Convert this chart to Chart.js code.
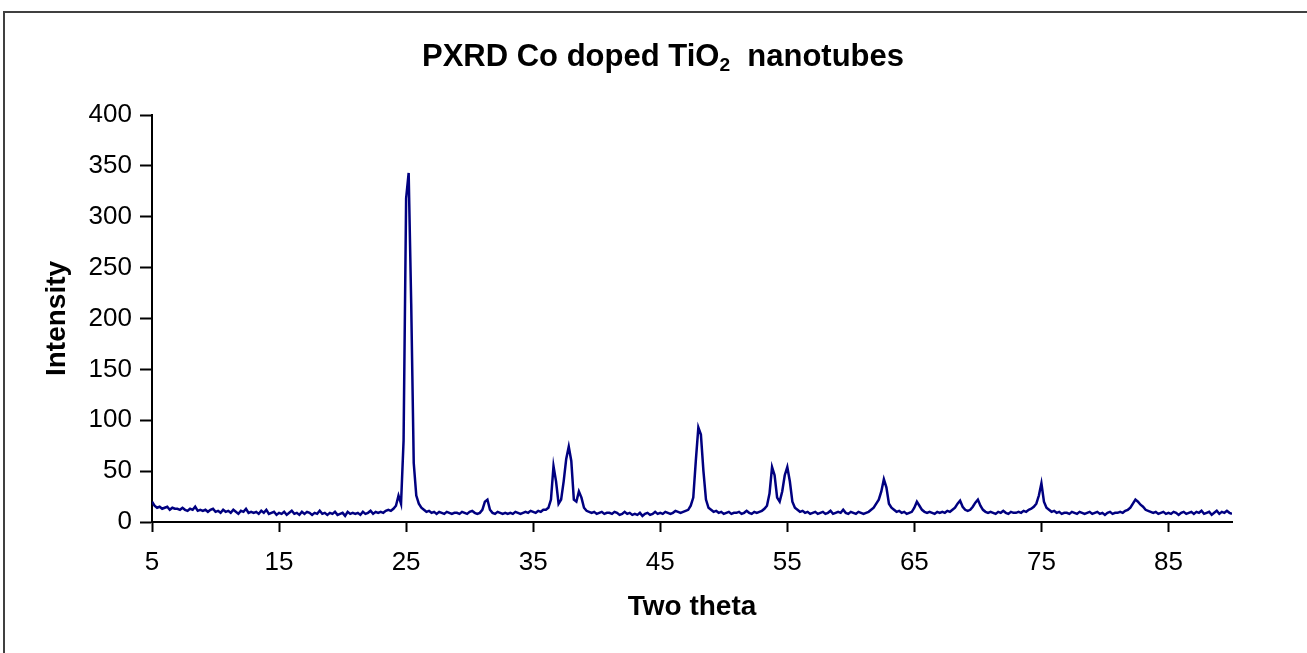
<!DOCTYPE html>
<html lang="en">
<head>
    <meta charset="UTF-8">
    <title>PXRD Co doped TiO2 nanotubes</title>
    <style>
        html, body { margin: 0; padding: 0; background: #fff; overflow: hidden; }
        #frame { position: absolute; left: 3px; top: 11px; width: 1320px; height: 660px; border: 2px solid #404040; box-sizing: border-box; }
        #title { position: absolute; left: 663px; top: 38px; transform: translateX(-50%); white-space: nowrap;
                 font-family: "Liberation Sans", Arial, sans-serif; font-weight: bold; font-size: 31px; color: #000; }
        #title sub { font-size: 0.62em; vertical-align: -0.25em; }
        #wrap { position: absolute; left: 0; top: 0; width: 1307px; height: 653px; }
    </style>
</head>
<body>
    <div id="frame"></div>
    <div id="wrap"><canvas id="xrd" width="1307" height="653"></canvas></div>
    <div id="title">PXRD Co doped TiO<sub>2</sub>&nbsp; nanotubes</div>

    <script src="https://cdn.jsdelivr.net/npm/chart.js"></script>
    <script>
        // measured on a 0.2 degree grid, 5 .. 90
        const twoThetaStart = 5;
        const twoThetaStep = 0.2;
        const xTicks = [5, 15, 25, 35, 45, 55, 65, 75, 85];
        const yTicks = [0, 50, 100, 150, 200, 250, 300, 350, 400];

        // one row = 2 degrees (10 readings)
        const intensity = [
            20, 16, 14, 15, 13, 14, 15, 12, 14, 13,   // 5
            13, 12, 14, 12, 11, 13, 12, 15, 11, 12,   // 7
            11, 12, 10, 12, 13, 10, 11, 9, 12, 10,    // 9
            11, 9, 12, 10, 8, 11, 10, 13, 9, 10,      // 11
            9, 10, 8, 11, 9, 12, 8, 9, 10, 7,         // 13
            9, 8, 10, 7, 9, 11, 8, 9, 7, 10,          // 15
            8, 10, 9, 7, 9, 8, 11, 8, 9, 7,           // 17
            9, 8, 10, 7, 8, 9, 6, 10, 8, 9,           // 19
            8, 9, 7, 10, 8, 9, 11, 8, 10, 9,          // 21
            10, 9, 11, 12, 11, 13, 16, 26, 18, 80,    // 23
            318, 343, 215, 58, 26, 18, 14, 12, 10, 11, // 25
            9, 10, 8, 10, 9, 8, 10, 9, 8, 9,          // 27
            9, 8, 10, 9, 8, 10, 11, 9, 8, 9,          // 29
            12, 20, 22, 12, 9, 8, 10, 9, 8, 9,        // 31
            8, 9, 8, 10, 9, 8, 9, 10, 9, 11,          // 33
            10, 9, 11, 10, 12, 12, 14, 22, 55, 40,    // 35
            18, 22, 40, 62, 74, 60, 22, 20, 30, 24,   // 37
            14, 11, 10, 9, 10, 8, 9, 10, 8, 9,        // 39
            9, 8, 10, 9, 7, 8, 10, 8, 9, 7,           // 41
            8, 7, 9, 6, 8, 9, 7, 8, 10, 8,            // 43
            9, 8, 10, 9, 8, 9, 11, 10, 9, 10,         // 45
            11, 12, 16, 24, 60, 93, 86, 50, 22, 14,   // 47
            12, 10, 11, 9, 10, 8, 9, 10, 8, 9,        // 49
            9, 10, 8, 9, 11, 9, 8, 10, 9, 10,         // 51
            11, 13, 16, 28, 54, 46, 24, 20, 30, 46,   // 53
            54, 40, 20, 14, 12, 10, 11, 9, 10, 8,     // 55
            9, 10, 8, 9, 10, 8, 9, 11, 8, 9,          // 57
            10, 9, 12, 9, 8, 10, 9, 8, 10, 9,         // 59
            8, 9, 10, 12, 14, 18, 22, 30, 42, 34,     // 61
            18, 14, 12, 10, 11, 9, 10, 8, 9, 10,      // 63
            14, 20, 16, 12, 10, 9, 10, 9, 8, 10,      // 65
            9, 10, 9, 11, 10, 12, 14, 18, 21, 15,     // 67
            12, 11, 12, 15, 19, 22, 16, 12, 10, 9,    // 69
            10, 9, 8, 10, 9, 11, 9, 8, 10, 9,         // 71
            9, 10, 9, 11, 10, 12, 13, 15, 18, 26,     // 73
            38, 20, 14, 12, 10, 11, 9, 10, 8, 9,      // 75
            9, 8, 10, 9, 8, 10, 9, 8, 9, 10,          // 77
            8, 9, 10, 8, 9, 7, 9, 10, 8, 9,           // 79
            9, 10, 9, 11, 12, 14, 18, 22, 20, 17,     // 81
            15, 12, 11, 10, 9, 10, 8, 9, 10, 8,       // 83
            9, 8, 10, 9, 7, 9, 10, 8, 9, 10,          // 85
            8, 10, 9, 11, 8, 9, 10, 7, 9, 11,         // 87
            8, 10, 9, 11, 9, 8                        // 89 .. 90
        ];

        const points = intensity.map((v, i) => ({ x: twoThetaStart + i * twoThetaStep, y: v }));

        const font = 'Liberation Sans, Arial, sans-serif';

        new Chart(document.getElementById('xrd'), {
            type: 'line',
            data: {
                datasets: [{
                    data: points,
                    borderColor: '#000080',
                    borderWidth: 2.5,
                    pointRadius: 0,
                    tension: 0,
                    fill: false
                }]
            },
            options: {
                responsive: false,
                animation: false,
                events: [],
                layout: { padding: { left: 0, right: 75, top: 115, bottom: 0 } },
                plugins: { legend: { display: false }, title: { display: false }, tooltip: { enabled: false } },
                scales: {
                    x: {
                        type: 'linear',
                        min: 5,
                        max: 90,
                        afterBuildTicks: s => { s.ticks = xTicks.map(v => ({ value: v })); },
                        afterFit: s => { s.height = 131; },
                        grid: { drawOnChartArea: false, drawTicks: true, tickLength: 10, color: '#000', tickWidth: 2 },
                        border: { display: true, color: '#000', width: 2 },
                        ticks: { color: '#000', padding: 15, maxRotation: 0, font: { family: font, size: 26 } },
                        title: { display: true, text: 'Two theta', color: '#000', padding: { top: 0, bottom: 29 },
                                 font: { family: font, size: 28, weight: 'bold' } }
                    },
                    y: {
                        min: 0,
                        max: 400,
                        afterBuildTicks: s => { s.ticks = yTicks.map(v => ({ value: v })); },
                        afterFit: s => { s.width = 152; },
                        grid: { drawOnChartArea: false, drawTicks: true, tickLength: 12, color: '#000', tickWidth: 2 },
                        border: { display: true, color: '#000', width: 2 },
                        ticks: { color: '#000', padding: 8, font: { family: font, size: 26 } },
                        title: { display: true, text: 'Intensity', color: '#000', padding: { top: 40, bottom: 0 },
                                 font: { family: font, size: 28, weight: 'bold' } }
                    }
                }
            }
        });
    </script>
</body>
</html>
